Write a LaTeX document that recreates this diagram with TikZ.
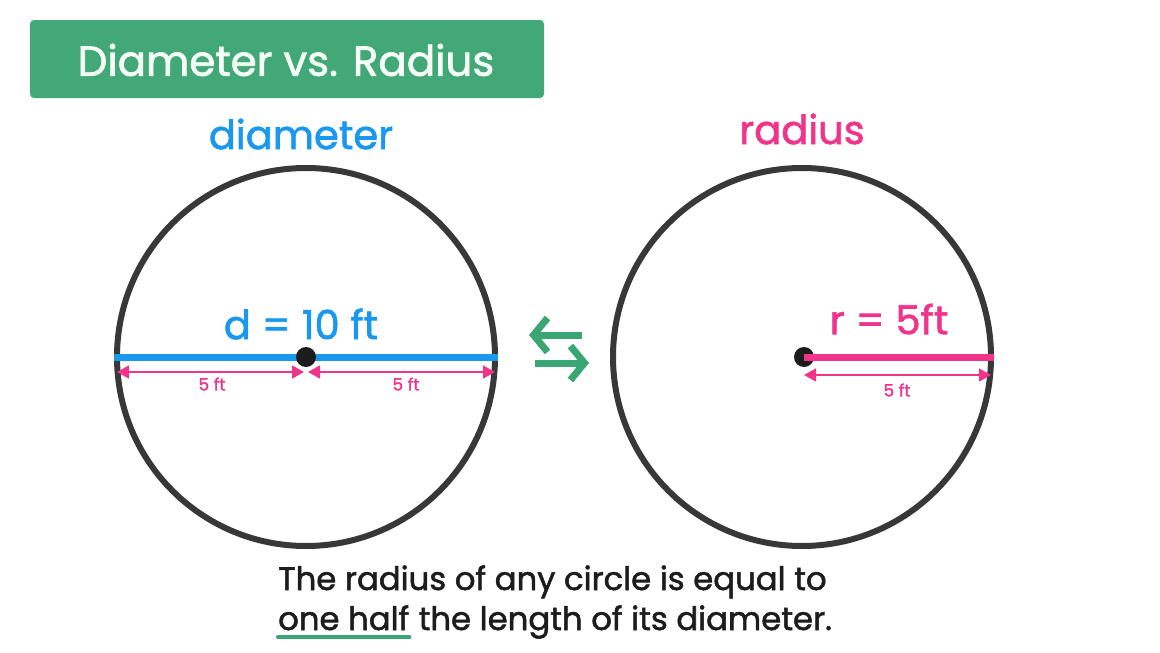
\documentclass[tikz,border=0pt]{standalone}
\usepackage{fontspec}
\setmainfont{Poppins}[FakeBold=1.6, AutoFakeBold=1.6]
\usetikzlibrary{arrows.meta,positioning}
\definecolor{titlegreen}{HTML}{42A878}
\definecolor{diablue}{HTML}{1A98F0}
\definecolor{radpink}{HTML}{F0348C}
\definecolor{ringgray}{HTML}{383838}
\definecolor{swapgreen}{HTML}{3AA673}
\definecolor{inkblack}{HTML}{1C1C1C}
\def\fsize#1{\fontsize{#1}{#1}\selectfont\bfseries}
\def\gap{\hspace{11pt}}
\tikzset{
	ring/.style={circle, draw=ringgray, line width=6pt, minimum size=378pt, inner sep=0pt},
	hub/.style={circle, fill=inkblack, minimum size=20pt, inner sep=0pt},
	dimline/.style={radpink, line width=1.8pt, {Triangle[length=12pt,width=13pt]}-{Triangle[length=12pt,width=13pt]}},
	dimlabel/.style={radpink, inner sep=0pt, font=\fsize{17}},
	swaparrow/.style={swapgreen, line width=7pt, -{Straight Barb[length=14pt,width=34pt]}},
	bigword/.style={inner sep=0pt, font=\fsize{40}},
	caption/.style={inkblack, inner sep=0pt, anchor=base west, font=\fsize{32.3}}
}

\begin{document}
\begin{tikzpicture}[x=1pt, y=1pt]
		%%%%% START %%%%%
		\useasboundingbox (0, 0) rectangle (1160, -653);
		
		\draw[fill=titlegreen, draw=none, rounded corners=4pt] (30, -20) rectangle (544, -98);
		\node[inner sep=0pt, text=green!4, font=\fsize{42}] (title) at (286, -60) {Diameter vs. Radius};
		
		% diameter side
		\node[bigword, text=diablue] (dword) at (301, -134) {diameter};
		\node[ring] (lcirc) at (306, -357) {};
		\draw[diablue, line width=7pt] (lcirc.west) -- (lcirc.east);
		\node[hub] (lhub) at (lcirc.center) {};
		\node[bigword, text=diablue] (dval) at (301, -324) {d\gap=\gap10 ft};
		
		\coordinate (ldimA) at ([xshift=3pt, yshift=-15pt]lcirc.west);
		\coordinate (ldimB) at ([xshift=-2pt, yshift=-15pt]lcirc.center);
		\coordinate (ldimC) at ([xshift=2pt, yshift=-15pt]lcirc.center);
		\coordinate (ldimD) at ([xshift=-3pt, yshift=-15pt]lcirc.east);
		\draw[dimline] (ldimA) -- (ldimB);
		\draw[dimline] (ldimC) -- (ldimD);
		\node[dimlabel] (lfive) at (212, -384) {5 ft};
		\node[dimlabel] (rfive) at (406, -384) {5 ft};
		
		% swap arrows
		\coordinate (swapA) at (582, -335);
		\coordinate (swapB) at (529, -335);
		\coordinate (swapC) at (535, -363);
		\coordinate (swapD) at (589, -363);
		\draw[swaparrow] (swapA) -- (swapB);
		\draw[swaparrow] (swapC) -- (swapD);
		
		% radius side
		\node[bigword, text=radpink] (rword) at (802, -129) {radius};
		\node[ring] (rcirc) at (802, -357) {};
		\node[hub] (rhub) at (804, -357) {};
		\draw[radpink, line width=7pt] (rhub.center) -- (rcirc.east);
		\node[bigword, text=radpink] (rval) at (889, -319) {r\gap=\gap5ft};
		
		\coordinate (rdimA) at ([yshift=-18pt]rhub.center);
		\coordinate (rdimB) at ([xshift=-3pt, yshift=-18pt]rcirc.east);
		\draw[dimline] (rdimA) -- (rdimB);
		\node[dimlabel] (rrfive) at (897, -390) {5 ft};
		
		% caption
		\node[caption] (lineone) at (278, -590) {The radius of any circle is equal to};
		\node[caption] (half) at (278, -630) {one half};
		\node[caption, base right=9pt of half] (linetwo) {the length of its diameter.};
		\draw[swapgreen, line width=4pt, line cap=round] ([yshift=-7pt]half.south west) -- ([yshift=-7pt]half.south east);
		
		%%%%% END %%%%%
	\end{tikzpicture}
\end{document}
